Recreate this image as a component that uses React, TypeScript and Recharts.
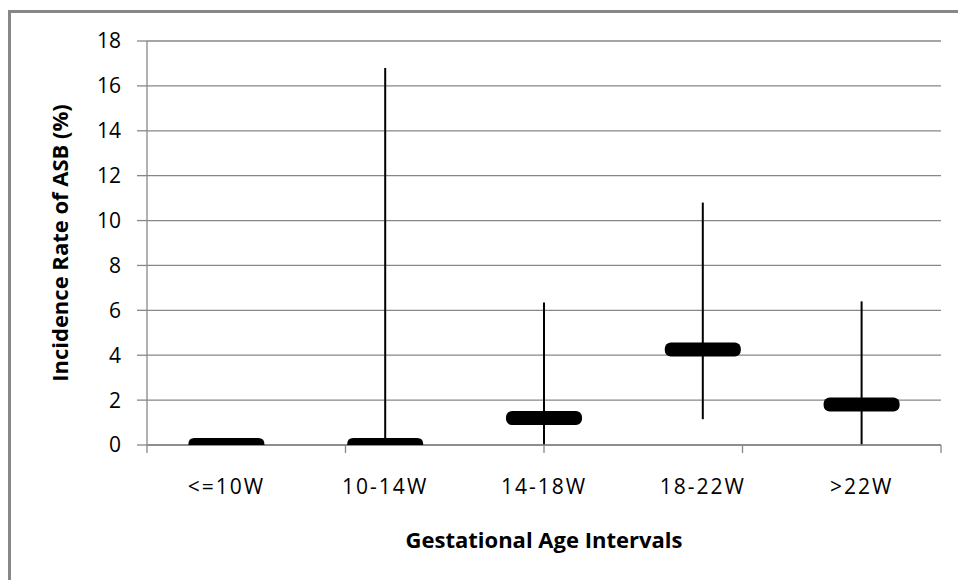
import React from 'react';
import { ComposedChart, Scatter, ErrorBar, XAxis, YAxis, CartesianGrid } from 'recharts';

const categories = ['<=10W', '10-14W', '14-18W', '18-22W', '>22W'];
const rates = [0, 0, 1.2, 4.25, 1.8];
const ciLow = [0, 0, 0, 1.15, 0];
const ciHigh = [0, 16.8, 6.35, 10.8, 6.4];
const yTicks = [0, 2, 4, 6, 8, 10, 12, 14, 16, 18];
const boundaryTicks = [0, 1, 2, 3, 4, 5];
const Y_MIN = 0;
const Y_MAX = 18;

const data = categories.map((c, i) => ({
  cat: c,
  rate: rates[i],
  err: [rates[i] - ciLow[i], ciHigh[i] - rates[i]],
}));

const FONT = '"Open Sans", sans-serif';
const GRAY = '#878787';

const PointShape = (props: any) => {
  const { cx, cy, payload } = props;
  if (cx == null || cy == null) return null;
  const w = 76;
  const h = 14;
  const r = 6;
  const x0 = cx - w / 2;
  const x1 = cx + w / 2;
  const top = cy - h / 2;
  if (payload && payload.rate <= Y_MIN) {
    // clipped at the plot's bottom edge: only the upper half shows
    const d = `M${x0},${cy} L${x0},${top + r} Q${x0},${top} ${x0 + r},${top} L${x1 - r},${top} Q${x1},${top} ${x1},${top + r} L${x1},${cy} Z`;
    return <path d={d} fill="#000" />;
  }
  return <rect x={x0} y={top} width={w} height={h} rx={r} ry={r} fill="#000" />;
};

const EmptyTick = () => <g />;

const YLabel = (props: any) => {
  const vb = props.viewBox || {};
  const x = 68;
  const y = vb.y + vb.height / 2;
  return (
    <text x={x} y={y} transform={`rotate(-90, ${x}, ${y})`} textAnchor="middle" fontFamily={FONT} fontWeight="bold" fontSize={22} fill="#000">
      Incidence Rate of ASB (%)
    </text>
  );
};

const XLabel = (props: any) => {
  const vb = props.viewBox || {};
  const x = vb.x + vb.width / 2;
  return (
    <text x={x} y={548} textAnchor="middle" fontFamily={FONT} fontWeight="bold" fontSize={22} fill="#000">
      Gestational Age Intervals
    </text>
  );
};

export default function App() {
  return (
    <div style={{ position: 'absolute', left: 0, top: 0, width: 958, height: 580, overflow: 'hidden', background: '#fff' }}>
      <div style={{ position: 'absolute', left: 8, top: 10, width: 1000, height: 1000, border: `3px solid ${GRAY}`, boxSizing: 'border-box' }} />
      <div style={{ position: 'absolute', left: 0, top: 0 }}>
        <ComposedChart width={958} height={580} data={data} margin={{ top: 41, right: 17, left: 0, bottom: 0 }}>
          <CartesianGrid vertical={false} stroke={GRAY} strokeWidth={1.3} />
          <XAxis
            xAxisId="b"
            type="number"
            domain={[0, 5]}
            allowDataOverflow
            ticks={boundaryTicks}
            tick={<EmptyTick />}
            tickSize={8}
            height={1}
            stroke={GRAY}
            strokeWidth={1.3}
          />
          <XAxis
            xAxisId="c"
            dataKey="cat"
            type="category"
            height={134}
            axisLine={false}
            tickLine={false}
            padding={{ left: 79.4, right: 79.4 }}
            tickSize={8}
            tickMargin={25}
            tick={{ fontFamily: FONT, fontSize: 21, fill: '#000', letterSpacing: 2 }}
            label={<XLabel />}
          />
          <YAxis
            domain={[Y_MIN, Y_MAX]}
            ticks={yTicks}
            allowDataOverflow
            width={147}
            tickSize={10}
            tickMargin={16}
            stroke={GRAY}
            strokeWidth={1.3}
            tick={{ fontFamily: FONT, fontSize: 21, fill: '#000' }}
            label={<YLabel />}
          />
          <Scatter xAxisId="c" dataKey="rate" fill="#000" shape={<PointShape />} isAnimationActive={false}>
            <ErrorBar dataKey="err" direction="y" width={0} stroke="#000" strokeWidth={2} isAnimationActive={false} />
          </Scatter>
        </ComposedChart>
      </div>
    </div>
  );
}
